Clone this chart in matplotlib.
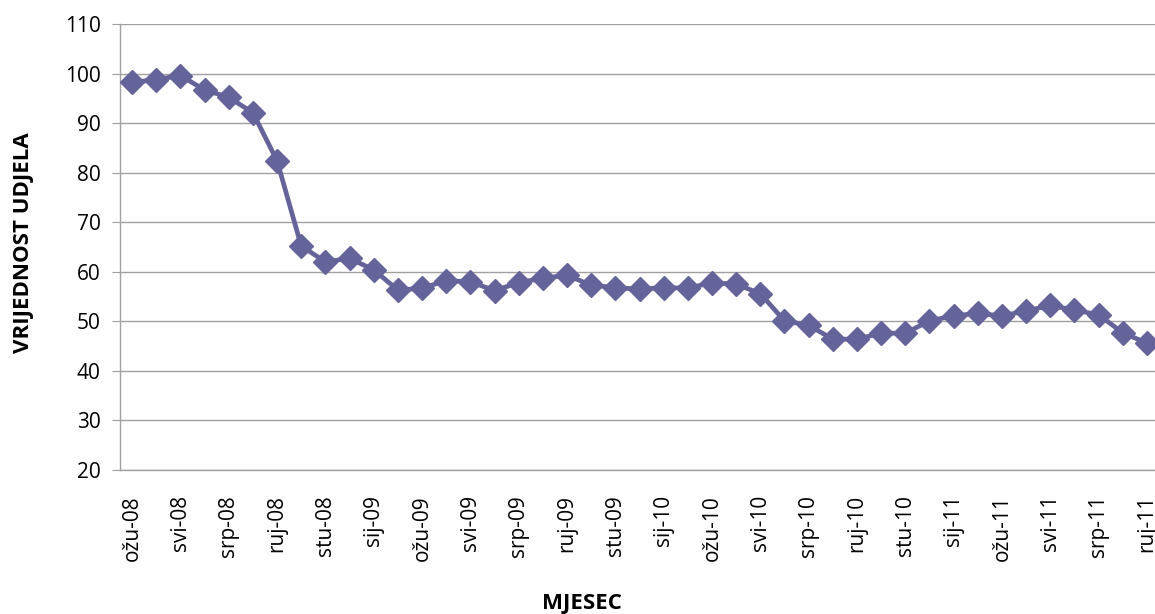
import matplotlib
matplotlib.use("Agg")
import matplotlib.pyplot as plt

months = ["sij", "velj", "ožu", "tra", "svi", "lip", "srp", "kol", "ruj", "lis", "stu", "pro"]
# monthly labels from ožu-08 to ruj-11
categories = []
for yr in ["08", "09", "10", "11"]:
    for m in months:
        categories.append(f"{m}-{yr}")
categories = categories[2:2 + 43]

values = [98.2, 98.8, 99.6, 96.7, 95.2, 92.1, 82.4, 65.2, 62.0, 62.7,
          60.4, 56.3, 56.7, 58.2, 58.0, 56.2, 57.8, 58.7, 59.3, 57.3,
          56.8, 56.5, 56.8, 56.7, 57.8, 57.5, 55.6, 50.1, 49.2, 46.4,
          46.4, 47.6, 47.6, 50.1, 51.1, 51.6, 51.1, 52.1, 53.2, 52.3,
          51.3, 47.7, 45.6]

yticks = [20, 30, 40, 50, 60, 70, 80, 90, 100, 110]

plt.rcParams['font.family'] = ['Open Sans', 'DejaVu Sans']

fig = plt.figure(figsize=(11.55, 6.14), dpi=100)
ax = fig.add_axes([120 / 1155, 1 - 470 / 614, 1039 / 1155, 446 / 614])

x = list(range(len(values)))
ax.plot(x, values, color="#64649a", linewidth=3.4, marker="D", markersize=12.5,
        markerfacecolor="#64649a", markeredgecolor="#64649a",
        markeredgewidth=1.0, zorder=3)

ax.set_ylim(20, 110)
ax.set_xlim(-0.5, len(values) - 0.5)
ax.set_yticks(yticks)
ax.set_xticks(x[::2])
ax.set_xticklabels(categories[::2], rotation=90)

ax.grid(axis="y", color="#a0a0a0", linewidth=1.0)
ax.set_axisbelow(True)
for s in ["top", "right"]:
    ax.spines[s].set_visible(False)
for s in ["left", "bottom"]:
    ax.spines[s].set_color("#a0a0a0")
    ax.spines[s].set_linewidth(1.0)

ax.tick_params(axis="y", length=6, color="#a0a0a0", labelsize=15, pad=8)
ax.tick_params(axis="x", length=0, labelsize=15, pad=18)

fig.text(24 / 1155, 1 - 243 / 614, "VRIJEDNOST UDJELA", rotation=90,
         ha="center", va="center", fontsize=16, fontweight="bold")
fig.text(582 / 1155, 1 - 604 / 614, "MJESEC", ha="center", va="center",
         fontsize=16, fontweight="bold")

fig.savefig("out.png", dpi=100)
